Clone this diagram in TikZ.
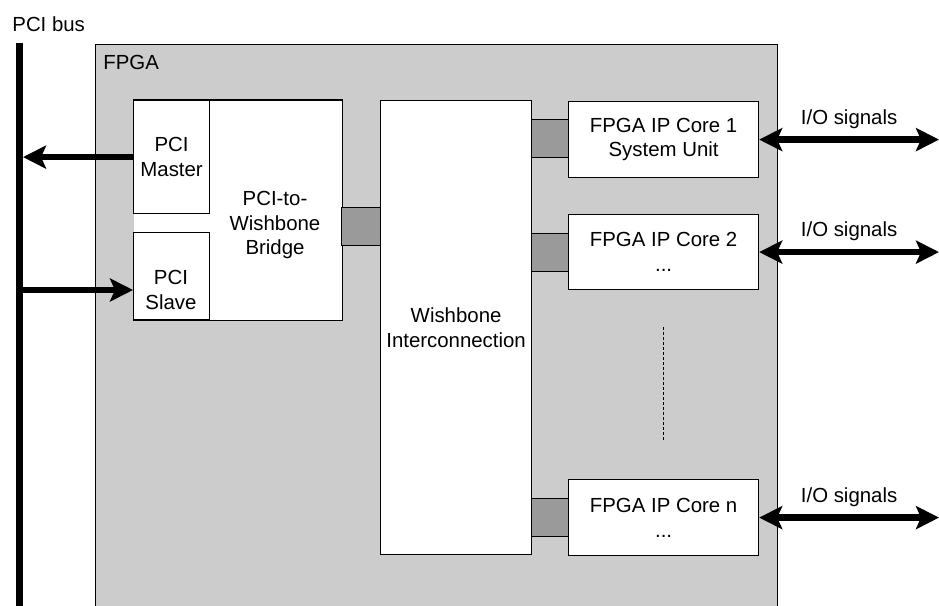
\documentclass[tikz,border=0pt]{standalone}
\usepackage{fontspec}
\setmainfont{Liberation Sans}
\usepackage{tikz}
\usetikzlibrary{arrows.meta}
\definecolor{fpgagray}{RGB}{204,204,204}
\definecolor{linkgray}{RGB}{154,154,154}
\newcommand{\diagfont}{\fontsize{10.2pt}{12.3pt}\selectfont}

\begin{document}
\begin{tikzpicture}[x=0.5pt, y=-0.5pt, font=\diagfont,
  box/.style={draw, fill=white, line width=0.6pt, inner sep=0pt,
    anchor=north west, align=center},
  link/.style={draw, fill=linkgray, line width=0.6pt, inner sep=0pt,
    anchor=north west, minimum width=19pt, minimum height=19pt},
  fat/.style={line width=3.3pt,
    -{Stealth[length=11.5pt, width=11.5pt, inset=2.5pt]}},
  io/.style={line width=3.3pt,
    {Stealth[length=11.5pt, width=11.5pt, inset=2.5pt]}-{Stealth[length=11.5pt, width=11.5pt, inset=2.5pt]}}]
  \clip (0,0) rectangle (939,606);
  % The bus and the chip.
  \node[anchor=base west, inner sep=0pt] (buslbl) at (12,31) {PCI bus};
  \coordinate (bustop) at (19.5,43);
  \coordinate (busbot) at (19.5,620);
  \coordinate (busedge) at (23,0);
  \draw[line width=3.5pt] (bustop) -- (busbot);
  \node[box, fill=fpgagray, minimum width=341pt, minimum height=290pt] (fpga) at (95,44) {};
  \node[anchor=base west, inner sep=0pt] (fpgalbl) at (103,69) {FPGA};
  % The bridge with its master and slave parts.
  \node[box, draw=none, minimum width=104pt, minimum height=109.5pt] (bridge) at (133,100) {};
  \draw[line width=0.6pt] (bridge.north west) -- (bridge.north east)
    -- (bridge.south east) -- (bridge.south west);
  \node[box, minimum width=38pt, minimum height=56.5pt] (master) at (133,100) {PCI\\Master};
  \node[box, minimum width=38pt, minimum height=43.5pt] (slave) at (133,232) {};
  \node[align=center] (slavetxt) at (171,290) {PCI\\Slave};
  \node[align=center] (bridgetxt) at (275,225) {PCI-to-\\Wishbone\\Bridge};
  \draw[fat] (master.west) -- (master.west -| busedge);
  \draw[fat] (bustop |- slavetxt) -- (slave.west |- slavetxt);
  % Interconnection and the cores.
  \node[box, minimum width=75.5pt, minimum height=227pt] (wb) at (380,100) {Wishbone\\Interconnection};
  \node[link, minimum width=19.5pt] (lnkb) at (341,207) {};
  \node[box, minimum width=95pt, minimum height=38pt] (core1) at (568,101) {FPGA IP Core 1\\System Unit};
  \node[box, minimum width=95pt, minimum height=37.5pt] (core2) at (568,214) {FPGA IP Core 2\\...};
  \node[box, minimum width=95pt, minimum height=38pt] (coren) at (568,479) {FPGA IP Core n\\...};
  \node[link, minimum width=18.5pt] (lnk1) at (531,119) {};
  \node[link, minimum width=18.5pt] (lnk2) at (531,233) {};
  \node[link, minimum width=18.5pt] (lnkn) at (531,498) {};
  \coordinate (dottop) at (663,327);
  \coordinate (dotbot) at (663,440);
  \draw[line width=0.5pt, dash pattern=on 1.5pt off 1pt] (dottop) -- (dotbot);
  % Signals leaving the chip.
  \coordinate (rim) at (939,0);
  \foreach \c in {core1,core2,coren}
    \draw[io] (\c.east) -- (rim |- \c.east)
      node[midway, above, yshift=0.5pt] {I/O signals};
\end{tikzpicture}
\end{document}
